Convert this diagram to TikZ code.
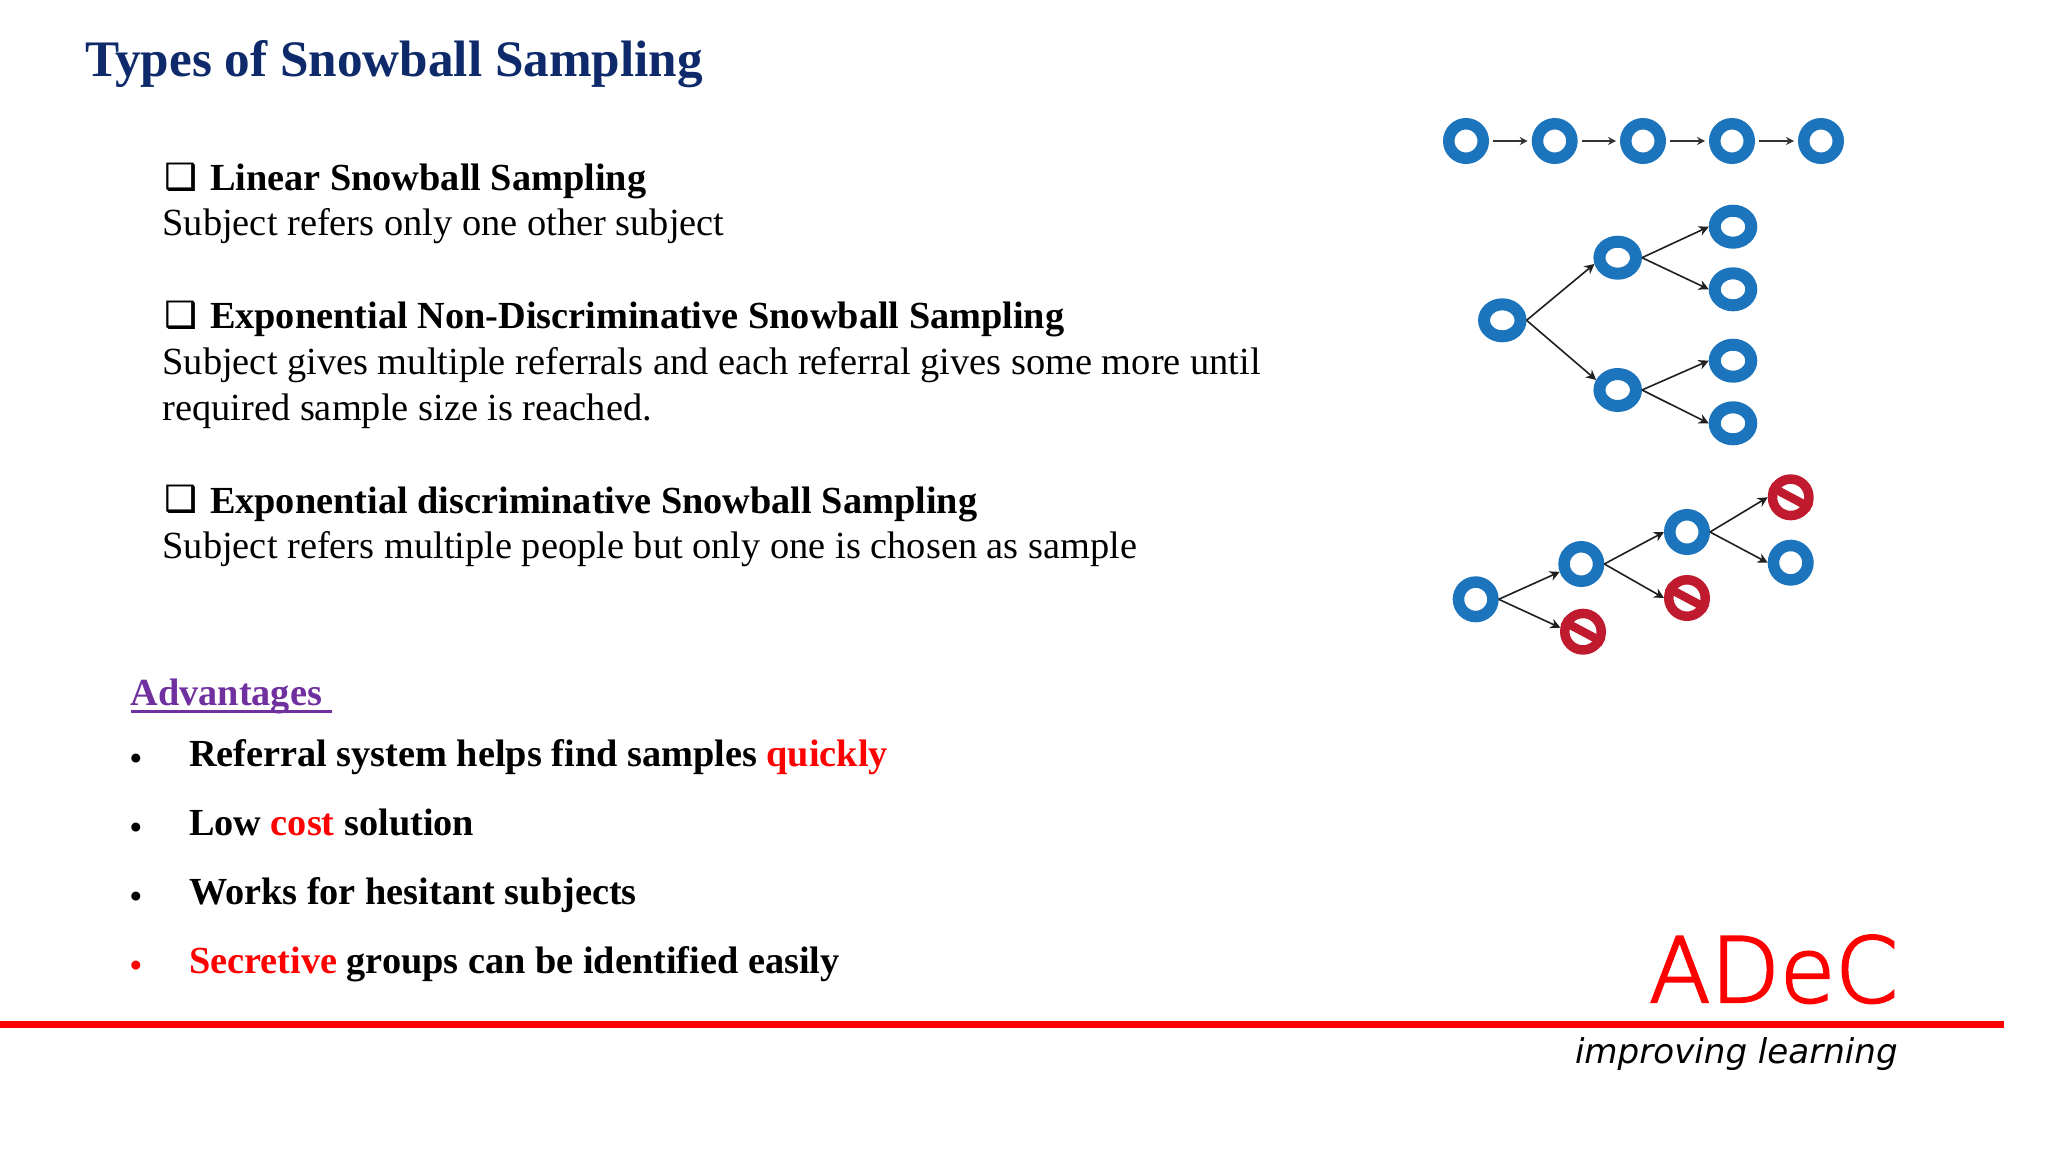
\documentclass[tikz,border=0pt]{standalone}
\usepackage{fontspec}
\usetikzlibrary{arrows.meta,shapes.geometric}
\setmainfont{Liberation Serif}
\newfontfamily\dejavu{DejaVu Sans}
\newfontfamily\chkfont[FakeBold=1]{DejaVu Sans}
\newfontfamily\logofont[FakeBold=2.5]{DejaVu Sans ExtraLight}
\definecolor{ringblue}{HTML}{1C75BC}
\definecolor{ringred}{HTML}{C01A2E}
\definecolor{titlenavy}{HTML}{0F2A6B}
\definecolor{advpurple}{HTML}{7030A0}
\tikzset{
  txt/.style={anchor=base west,inner sep=0pt,outer sep=0pt},
  title/.style={txt,font=\fontsize{51.2}{60}\selectfont\bfseries,text=titlenavy},
  head/.style={txt,font=\fontsize{38.3}{44}\selectfont\bfseries},
  body/.style={txt,font=\fontsize{38.4}{44}\selectfont},
  adv/.style={txt,font=\fontsize{38.3}{46}\selectfont\bfseries},
  chk/.style={txt,font=\chkfont\fontsize{36}{46}\selectfont},
  blt/.style={txt,font=\fontsize{33}{36}\selectfont\bfseries},
  ring/.style={draw=ringblue,fill=white,line width=11.5pt,circle,minimum size=34.5pt,inner sep=0pt},
  oring/.style={draw=ringblue,fill=white,line width=12pt,ellipse,minimum width=36.5pt,minimum height=32pt,inner sep=0pt},
  nope/.style={draw=ringred,fill=white,line width=9.5pt,circle,minimum size=36.5pt,inner sep=0pt},
  bar/.style={draw=ringred,line width=8.5pt},
  arr/.style={draw=black!88,line width=1.6pt,-{Stealth[length=10pt,width=10pt]}},
  garr/.style={draw=black!80,line width=1.1pt,-{Stealth[length=8pt,width=8pt]},shorten >=4pt,shorten <=4pt},
}
\begin{document}
\begin{tikzpicture}[x=1pt,y=-1pt]
\useasboundingbox[fill=white] (0,0) rectangle (2048,1152);
% text
\node[title] (t) at (85,76.5) {Types of Snowball Sampling};
\node[chk] (c1) at (164.5,189) {❑};
\node[head] (h1) at (210,190.3) {Linear Snowball Sampling};
\node[body] (b1) at (162.5,235.7) {Subject refers only one other subject};
\node[chk] (c2) at (164.5,327) {❑};
\node[head] (h2) at (210,328.7) {Exponential Non-Discriminative Snowball Sampling};
\node[body] (b2) at (162.5,374.5) {Subject gives multiple referrals and each referral gives some more until};
\node[body] (b3) at (162.5,420.7) {required sample size is reached.};
\node[chk] (c3) at (164.5,511) {❑};
\node[head] (h3) at (210,513) {Exponential discriminative Snowball Sampling};
\node[body] (b4) at (162.5,558.9) {Subject refers multiple people but only one is chosen as sample};
\node[adv,text=advpurple] (av) at (130.5,705) {Advantages};
\draw[advpurple,line width=3pt] (131,711) -- (332,711);
\node[blt] (p1) at (130,769) {•};
\node[adv] (a1) at (189,766) {Referral system helps find samples \textcolor{red}{quickly}};
\node[blt] (p2) at (130,838) {•};
\node[adv] (a2) at (189,835) {Low \textcolor{red}{cost} solution};
\node[blt] (p3) at (130,907) {•};
\node[adv] (a3) at (189,904) {Works for hesitant subjects};
\node[blt,text=red] (p4) at (130,976) {•};
\node[adv] (a4) at (189,973) {\textcolor{red}{Secretive} groups can be identified easily};
% linear chain
\node[ring] (l1) at (1466,141) {};
\node[ring] (l2) at (1554.7,141) {};
\node[ring] (l3) at (1643,141) {};
\node[ring] (l4) at (1732,141) {};
\node[ring] (l5) at (1821,141) {};
\draw[garr] (l1) -- (l2);
\draw[garr] (l2) -- (l3);
\draw[garr] (l3) -- (l4);
\draw[garr] (l4) -- (l5);
% tree
\node[oring] (r) at (1502.3,320.3) {};
\node[oring] (m1) at (1617.7,257.7) {};
\node[oring] (m2) at (1617.7,390) {};
\node[oring] (f1) at (1733,226.7) {};
\node[oring] (f2) at (1733,289.3) {};
\node[oring] (f3) at (1733,360.7) {};
\node[oring] (f4) at (1733,423.3) {};
\draw[arr] (r.0) -- (m1.195);
\draw[arr] (r.0) -- (m2.155);
\draw[arr] (m1.0) -- (f1.180);
\draw[arr] (m1.0) -- (f2.180);
\draw[arr] (m2.0) -- (f3.180);
\draw[arr] (m2.0) -- (f4.180);
% discriminative
\node[ring] (n1) at (1475.7,599.3) {};
\node[ring] (n2) at (1581.3,564) {};
\node[nope] (x1) at (1583,631.7) {};
\node[ring] (n3) at (1687,532) {};
\node[nope] (x2) at (1687,598) {};
\node[nope] (x3) at (1790.7,497.3) {};
\node[ring] (n4) at (1790.7,562.7) {};
\draw[bar] (x1.152) -- (x1.332);
\draw[bar] (x2.152) -- (x2.332);
\draw[bar] (x3.152) -- (x3.332);
\draw[arr] (n1.0) -- (n2.200);
\draw[arr] (n1.0) -- (x1.170);
\draw[arr] (n2.0) -- (n3.180);
\draw[arr] (n2.0) -- (x2.180);
\draw[arr] (n3.0) -- (x3.180);
\draw[arr] (n3.0) -- (n4.180);
% logo
\node[txt,text=red,font=\logofont\fontsize{90}{100}\selectfont] (lg) at (1649,1002) {ADeC};
\draw[red,line width=7pt] (0,1024) -- (2004,1024);
\node[txt,font=\dejavu\itshape\fontsize{34.1}{40}\selectfont] (il) at (1575,1063) {improving learning};
\end{tikzpicture}
\end{document}
